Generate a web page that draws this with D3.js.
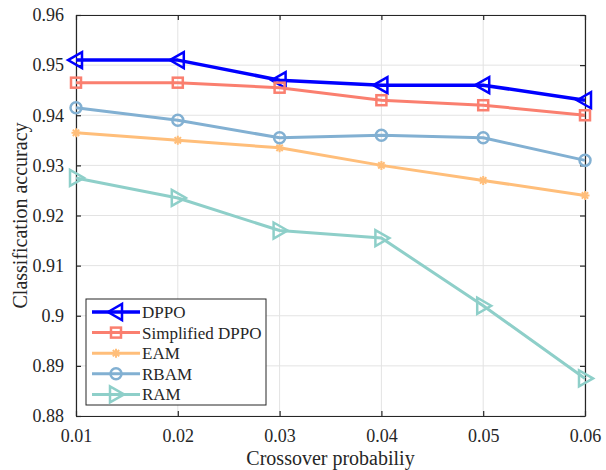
<!DOCTYPE html>
<html>
<head>
<meta charset="utf-8">
<script src="https://cdn.jsdelivr.net/npm/d3@7"></script>
<style>
  body { margin: 0; background: #fff; }
  svg text { font-family: "Liberation Serif", "DejaVu Serif", serif; fill: #262626; }
</style>
</head>
<body>
<svg id="chart" width="606" height="470"></svg>
<script>
// data
var probs = [0.01, 0.02, 0.03, 0.04, 0.05, 0.06];
var xTicks = ["0.01", "0.02", "0.03", "0.04", "0.05", "0.06"];
var yTicks = [0.88, 0.89, 0.9, 0.91, 0.92, 0.93, 0.94, 0.95, 0.96];
var yTickLabels = ["0.88", "0.89", "0.9", "0.91", "0.92", "0.93", "0.94", "0.95", "0.96"];
var names = ["DPPO", "Simplified DPPO", "EAM", "RBAM", "RAM"];
var dppo = [0.951, 0.951, 0.947, 0.946, 0.946, 0.943];
var sdppo = [0.9465, 0.9465, 0.9455, 0.943, 0.942, 0.940];
var eam = [0.9365, 0.935, 0.9335, 0.930, 0.927, 0.924];
var rbam = [0.9415, 0.939, 0.9355, 0.936, 0.9355, 0.931];
var ram = [0.9275, 0.9235, 0.917, 0.9155, 0.902, 0.8875];

var series = [
    {name: names[0], values: dppo, color: "#0000ff", marker: "triL", width: 3.5},
    {name: names[1], values: sdppo, color: "#fa7f6f", marker: "square", width: 3},
    {name: names[2], values: eam, color: "#ffbe7a", marker: "star", width: 3},
    {name: names[3], values: rbam, color: "#82b0d2", marker: "circle", width: 3},
    {name: names[4], values: ram, color: "#8ecfc9", marker: "triR", width: 3}
];

var pLeft = 76, pRight = 585, pTop = 15, pBottom = 416;
var svg = d3.select("#chart");

var x = d3.scaleLinear().domain([0.01, 0.06]).range([pLeft, pRight]);
var y = d3.scaleLinear().domain([0.88, 0.96]).range([pBottom, pTop]);

// grid
var grid = svg.append("g").attr("stroke", "#e3e3e3").attr("stroke-width", 1);
grid.selectAll("line.gx").data(probs).enter().append("line")
    .attr("x1", function (d) { return x(d); }).attr("x2", function (d) { return x(d); })
    .attr("y1", pTop).attr("y2", pBottom);
grid.selectAll("line.gy").data(yTicks).enter().append("line")
    .attr("y1", function (d) { return y(d); }).attr("y2", function (d) { return y(d); })
    .attr("x1", pLeft).attr("x2", pRight);

// axes with inward ticks, box on all sides
var axisColor = "#262626";
function styleAxis(g) {
    g.select(".domain").attr("stroke", axisColor).attr("stroke-width", 1.2);
    g.selectAll(".tick line").attr("stroke", axisColor).attr("stroke-width", 1.2);
    g.selectAll(".tick text").attr("font-size", "18px").attr("font-family", "Liberation Serif, serif").attr("fill", axisColor);
}
var xAxis = d3.axisBottom(x).tickValues(probs).tickFormat(function (d, i) { return xTicks[i]; })
    .tickSizeInner(-5).tickSizeOuter(0).tickPadding(13);
svg.append("g").attr("transform", "translate(0," + pBottom + ")").call(xAxis).call(styleAxis);
svg.append("g").attr("transform", "translate(0," + pTop + ")")
    .call(d3.axisTop(x).tickValues(probs).tickFormat("").tickSizeInner(-5).tickSizeOuter(0)).call(styleAxis);
var yAxis = d3.axisLeft(y).tickValues(yTicks).tickFormat(function (d, i) { return yTickLabels[i]; })
    .tickSizeInner(-5).tickSizeOuter(0).tickPadding(12);
svg.append("g").attr("transform", "translate(" + pLeft + ",0)").call(yAxis).call(styleAxis);
svg.append("g").attr("transform", "translate(" + pRight + ",0)")
    .call(d3.axisRight(y).tickValues(yTicks).tickFormat("").tickSizeInner(-5).tickSizeOuter(0)).call(styleAxis);

// axis titles
svg.append("text").attr("x", (pLeft + pRight) / 2).attr("y", 465)
    .attr("text-anchor", "middle").attr("font-size", "20px").text("Crossover probabiliy");
svg.append("text").attr("transform", "translate(27," + (pTop + pBottom) / 2 + ") rotate(-90)")
    .attr("text-anchor", "middle").attr("font-size", "20px").text("Classification accuracy");

// markers
function drawMarker(g, type, cx, cy, color) {
    if (type === "triL") {
        g.append("path").attr("d", "M" + (cx - 8) + "," + cy + "L" + (cx + 6) + "," + (cy - 8) + "L" + (cx + 6) + "," + (cy + 8) + "Z")
            .attr("fill", "none").attr("stroke", color).attr("stroke-width", 2.5);
    } else if (type === "triR") {
        g.append("path").attr("d", "M" + (cx + 8) + "," + cy + "L" + (cx - 6) + "," + (cy - 8) + "L" + (cx - 6) + "," + (cy + 8) + "Z")
            .attr("fill", "none").attr("stroke", color).attr("stroke-width", 2.5);
    } else if (type === "square") {
        g.append("rect").attr("x", cx - 5).attr("y", cy - 5).attr("width", 10).attr("height", 10)
            .attr("fill", "none").attr("stroke", color).attr("stroke-width", 2.5);
    } else if (type === "circle") {
        g.append("circle").attr("cx", cx).attr("cy", cy).attr("r", 5.5)
            .attr("fill", "none").attr("stroke", color).attr("stroke-width", 2.5);
    } else if (type === "star") {
        var r = 4.5, d = "";
        [0, 45, 90, 135].forEach(function (a) {
            var rad = a * Math.PI / 180;
            d += "M" + (cx - r * Math.cos(rad)) + "," + (cy - r * Math.sin(rad)) + "L" + (cx + r * Math.cos(rad)) + "," + (cy + r * Math.sin(rad));
        });
        g.append("path").attr("d", d).attr("stroke", color).attr("stroke-width", 2);
    }
}

var line = d3.line()
    .x(function (d, i) { return x(probs[i]); })
    .y(function (d) { return y(d); });

series.forEach(function (s) {
    var g = svg.append("g");
    g.append("path").attr("d", line(s.values)).attr("fill", "none")
        .attr("stroke", s.color).attr("stroke-width", s.width).attr("stroke-linejoin", "round");
    s.values.forEach(function (v, i) {
        drawMarker(g, s.marker, x(probs[i]), y(v), s.color);
    });
});

// legend
var lg = svg.append("g");
lg.append("rect").attr("x", 86).attr("y", 299).attr("width", 180).attr("height", 106)
    .attr("fill", "#fff").attr("stroke", axisColor).attr("stroke-width", 1);
series.forEach(function (s, i) {
    var ly = 312 + i * 20.6;
    lg.append("line").attr("x1", 92).attr("x2", 140).attr("y1", ly).attr("y2", ly)
        .attr("stroke", s.color).attr("stroke-width", s.width);
    drawMarker(lg, s.marker, 116, ly, s.color);
    lg.append("text").attr("x", 142).attr("y", ly + 6).attr("font-size", "17px").text(s.name);
});
</script>
</body>
</html>
